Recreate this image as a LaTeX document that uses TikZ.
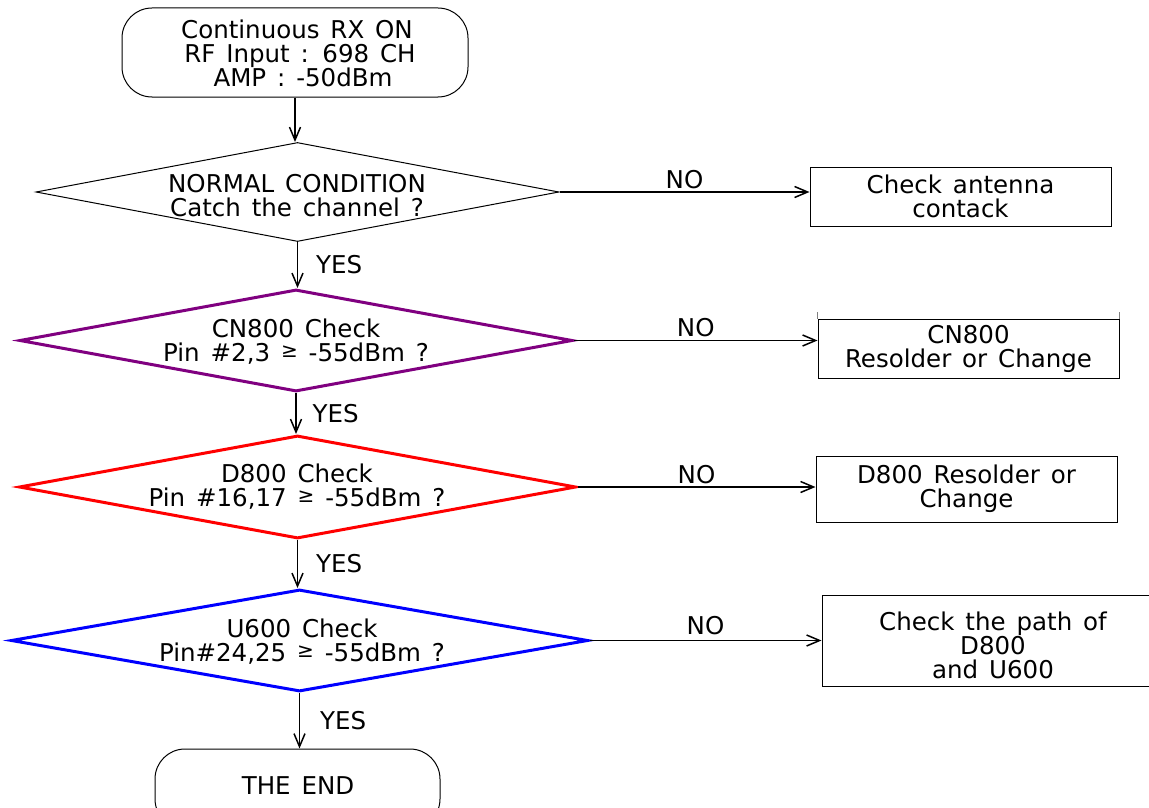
\documentclass[tikz,border=0pt]{standalone}
\usepackage{fontspec}
\setmainfont{DejaVu Sans}[WordSpace={1.4,1,1}]
\usetikzlibrary{arrows.meta,shapes.geometric}
\newcommand{\gesym}{\raisebox{4pt}{\fontsize{20}{20}\selectfont ≥}}
\tikzset{
  every node/.style={font=\fontsize{24.5}{24}\selectfont, align=center, inner sep=0pt},
  conn/.style={draw=black, line width=1.1pt, -{Straight Barb[length=13pt,width=11pt,line width=1.5pt]}},
  term/.style={draw=black, line width=1pt, rounded corners=30pt},
  proc/.style={draw=black, line width=1pt, rectangle},
  dec/.style={diamond, aspect=5, line width=#1},
  lbl/.style={font=\fontsize{24.5}{24}\selectfont}
}
\begin{document}
\begin{tikzpicture}[x=1pt,y=-1pt]
\useasboundingbox (0,0) rectangle (1149,808);
\fill[white] (0,0) rectangle (1149,808);
% start
\node[term, minimum width=346pt, minimum height=89pt] (start) at (295,52.5) {};
\node at (297,53) {Continuous RX ON\\\hspace*{6pt}RF Input : 698 CH\\\hspace*{12pt}AMP : -50dBm};
% decisions
\node[dec=1pt, draw=black, minimum width=523pt, minimum height=99pt] (d1) at (297.5,192) {};
\node at (297,196) {NORMAL CONDITION\\Catch the channel ?};
\node[dec=3pt, draw={rgb,255:red,128;green,0;blue,128}, minimum width=553pt, minimum height=102pt] (d2) at (296,340.5) {};
\node at (296,342) {CN800 Check\\Pin \#2,3 \gesym{} -55dBm ?};
\node[dec=3pt, draw=red, minimum width=557pt, minimum height=103pt] (d3) at (297.5,487) {};
\node at (297,487) {D800 Check\\Pin \#16,17 \gesym{} -55dBm ?};
\node[dec=3pt, draw=blue, minimum width=577pt, minimum height=102pt] (d4) at (299.5,640.5) {};
\node at (302,642) {U600 Check\\Pin\#24,25 \gesym{} -55dBm ?};
% end
\node[term, minimum width=285pt, minimum height=80pt] (fin) at (297.5,789) {};
\node at (298,786) {THE END};
% boxes
\node[proc, minimum width=301pt, minimum height=59pt] (b1) at (960.5,196.5) {Check antenna\\contack};
\node[proc, minimum width=301pt, minimum height=59pt] (b2) at (968.5,348.5) {CN800\\Resolder or Change};
\node[proc, minimum width=301pt, minimum height=66pt] (b3) at (966.5,489) {D800 Resolder or\\Change};
\node[proc, minimum width=340pt, minimum height=91pt] (b4) at (992,640.5) {};
\node at (993,645) {Check the path of\\D800\\and U600};
\draw[line width=1pt, gray] (b2.north west) -- ++(0,-7);
\draw[line width=1pt, gray] (b2.north east) -- ++(0,-7);
% vertical connectors
\draw[conn] (start.south) -- (start.south |- d1.north);
\draw[conn] (d1.south) -- node[right=18pt, lbl] {YES} (d1.south |- d2.north);
\draw[conn] (d2.south) -- node[right=16pt, lbl] {YES} (d2.south |- d3.north);
\draw[conn] (d3.south) -- node[right=18pt, lbl] {YES} (d3.south |- d4.north);
\draw[conn] (d4.south) -- node[right=20pt, lbl] {YES} (d4.south |- fin.north);
% horizontal connectors
\draw[conn] (d1.east) -- node[above=3pt, lbl] {NO} (b1.west |- d1.east);
\draw[conn] (d2.east) -- node[above=3pt, lbl] {NO} (b2.west |- d2.east);
\draw[conn] (d3.east) -- node[above=3pt, lbl] {NO} (b3.west |- d3.east);
\draw[conn] (d4.east) -- node[above=5pt, lbl] {NO} (b4.west |- d4.east);
\end{tikzpicture}
\end{document}
